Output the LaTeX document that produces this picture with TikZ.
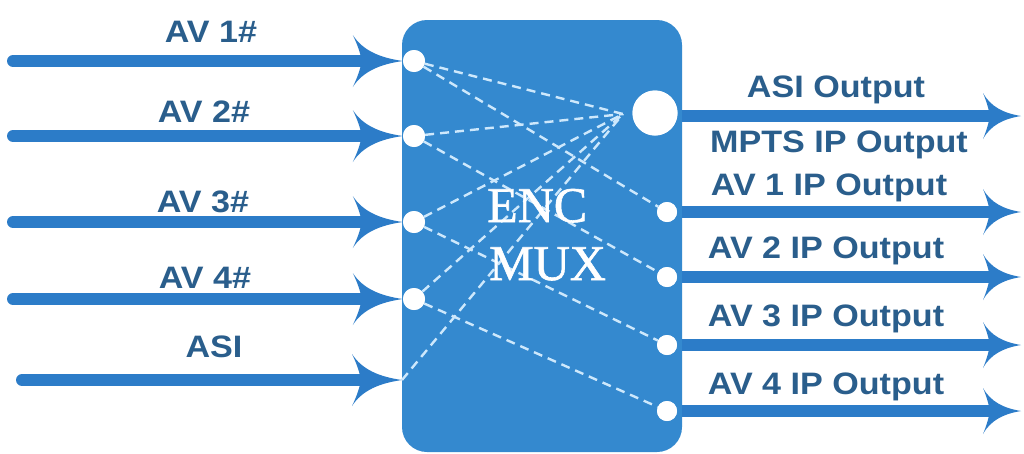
\documentclass[tikz,border=0pt]{standalone}
\usepackage{fontspec}
\newfontfamily\labfont[FakeStretch=1.1]{Liberation Sans}
\newfontfamily\encfont[FakeBold=1.2]{Liberation Serif}
\usetikzlibrary{arrows.meta}
\definecolor{boxblue}{RGB}{52,137,207}
\definecolor{arrowblue}{RGB}{44,124,200}
\definecolor{textblue}{RGB}{42,94,140}
\definecolor{dashcol}{RGB}{205,232,252}

\pgfdeclarearrow{
  name = Barb,
  parameters = {\the\pgfarrowlength,\the\pgfarrowwidth},
  setup code = {
    \pgfarrowssettipend{0pt}
    \pgfarrowssetlineend{-0.7\pgfarrowlength}
    \pgfarrowssetbackend{-\pgfarrowlength}
    \pgfarrowssavethe\pgfarrowlength
    \pgfarrowssavethe\pgfarrowwidth
  },
  drawing code = {
    \pgfpathmoveto{\pgfpointorigin}
    \pgfpathcurveto{\pgfpoint{-0.45\pgfarrowlength}{0.06\pgfarrowwidth}}{\pgfpoint{-0.8\pgfarrowlength}{0.2\pgfarrowwidth}}{\pgfpoint{-\pgfarrowlength}{0.5\pgfarrowwidth}}
    \pgfpathcurveto{\pgfpoint{-0.9\pgfarrowlength}{0.3\pgfarrowwidth}}{\pgfpoint{-0.85\pgfarrowlength}{0.15\pgfarrowwidth}}{\pgfpoint{-0.82\pgfarrowlength}{0pt}}
    \pgfpathcurveto{\pgfpoint{-0.85\pgfarrowlength}{-0.15\pgfarrowwidth}}{\pgfpoint{-0.9\pgfarrowlength}{-0.3\pgfarrowwidth}}{\pgfpoint{-\pgfarrowlength}{-0.5\pgfarrowwidth}}
    \pgfpathcurveto{\pgfpoint{-0.8\pgfarrowlength}{-0.2\pgfarrowwidth}}{\pgfpoint{-0.45\pgfarrowlength}{-0.06\pgfarrowwidth}}{\pgfpointorigin}
    \pgfpathclose
    \pgfusepathqfill
  },
  defaults = {length = 50pt, width = 52pt}
}

\begin{document}
\begin{tikzpicture}[x=1pt,y=-1pt,
  dot/.style={circle, fill=white, draw=none, inner sep=0pt, minimum size=#1},
  inarrow/.style={color=arrowblue, line width=12pt, line cap=round, -{Barb[length=50pt,width=52pt]}},
  outarrow/.style={color=arrowblue, line width=12pt, -{Barb[length=38pt,width=46pt]}},
  dashline/.style={draw=dashcol, line width=2.4pt, dash pattern=on 9pt off 6pt},
  lab/.style={text=textblue, inner sep=0pt, font=\labfont\bfseries\fontsize{31}{31}\selectfont},
  enc/.style={text=white, inner sep=0pt, font=\encfont\fontsize{50}{50}\selectfont}
]
\fill[white] (0,0) rectangle (1024,453);
\useasboundingbox (0,0) rectangle (1024,453);

% main box
\node[fill=boxblue, draw=none, rounded corners=25pt, minimum width=280pt, minimum height=432pt, inner sep=0pt] (box) at (542,236) {};

% connection points
\node[dot=22pt] (i1) at (414,61) {};
\node[dot=22pt] (i2) at (414,136) {};
\node[dot=22pt] (i3) at (414,222) {};
\node[dot=22pt] (i4) at (414,299) {};
\coordinate (asiIn) at (402,380);
\node[dot=20pt] (o1) at (667,212) {};
\node[dot=20pt] (o2) at (667,277) {};
\node[dot=20pt] (o3) at (667,345) {};
\node[dot=20pt] (o4) at (667,411) {};
\node[dot=45pt] (bigC) at (655,113) {};
\coordinate (conv) at (623,114);

% dashed internal routes
\draw[dashline] (i1) -- (conv);
\draw[dashline] (i1) -- (o1);
\draw[dashline] (i2) -- (conv);
\draw[dashline] (i2) -- (o2);
\draw[dashline] (i3) -- (conv);
\draw[dashline] (i3) -- (o3);
\draw[dashline] (i4) -- (conv);
\draw[dashline] (i4) -- (o4);
\draw[dashline] (asiIn) -- (conv);

% redraw dots on top
\node[dot=22pt] at (i1) {};
\node[dot=22pt] at (i2) {};
\node[dot=22pt] at (i3) {};
\node[dot=22pt] at (i4) {};
\node[dot=20pt] at (o1) {};
\node[dot=20pt] at (o2) {};
\node[dot=20pt] at (o3) {};
\node[dot=20pt] at (o4) {};
\node[dot=45pt] at (bigC) {};

% input arrows
\coordinate (s1) at (13,61);
\coordinate (s2) at (13,136);
\coordinate (s3) at (13,222);
\coordinate (s4) at (13,299);
\coordinate (s5) at (22,380);
\draw[inarrow] (s1) -- (i1.west);
\draw[inarrow] (s2) -- (i2.west);
\draw[inarrow] (s3) -- (i3.west);
\draw[inarrow] (s4) -- (i4.west);
\draw[inarrow] (s5) -- (asiIn);

% output arrows
\coordinate (e0) at (1021,116);
\draw[outarrow] (box.east |- e0) -- (e0);
\draw[outarrow] (box.east |- o1) -- (e0 |- o1);
\draw[outarrow] (box.east |- o2) -- (e0 |- o2);
\draw[outarrow] (box.east |- o3) -- (e0 |- o3);
\draw[outarrow] (box.east |- o4) -- (e0 |- o4);

% input labels
\node[lab, anchor=base] (l1) at (211,42) {AV 1\#};
\node[lab, anchor=base] (l2) at (204,122) {AV 2\#};
\node[lab, anchor=base] (l3) at (203,212) {AV 3\#};
\node[lab, anchor=base] (l4) at (205,288) {AV 4\#};
\node[lab, anchor=base] (l5) at (214,357) {ASI};

% output labels
\node[lab, anchor=base] (r0) at (836,97) {ASI Output};
\node[lab, anchor=base] (r1) at (839,152) {MPTS IP Output};
\node[lab, anchor=base] (r2) at (829,195) {AV 1 IP Output};
\node[lab, anchor=base] (r3) at (826,258) {AV 2 IP Output};
\node[lab, anchor=base] (r4) at (826,326) {AV 3 IP Output};
\node[lab, anchor=base] (r5) at (826,394) {AV 4 IP Output};

% box title
\node[enc, anchor=base west] (enc) at (487,222) {ENC};
\node[enc, anchor=base west] (mux) at (489,280) {MUX};
\end{tikzpicture}
\end{document}
